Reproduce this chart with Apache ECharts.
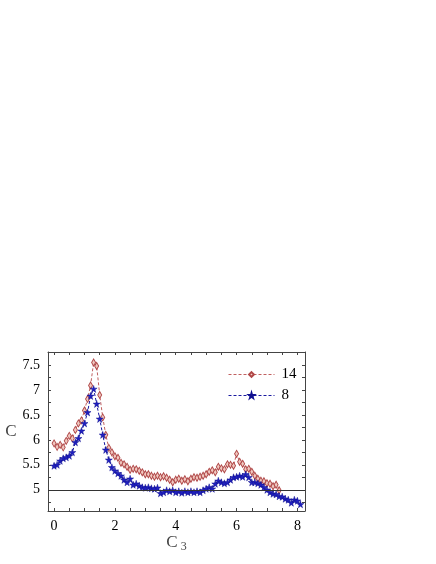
<!DOCTYPE html>
<html><head><meta charset="utf-8">
<script src="https://cdn.jsdelivr.net/npm/echarts@6/dist/echarts.min.js"></script>
<style>html,body{margin:0;padding:0;background:#fff}#c{width:436px;height:564px}</style>
</head><body><div id="c"></div>
<script>
var xRed = [0.0,0.1,0.2,0.3,0.4,0.5,0.6,0.7,0.8,0.9,1.0,1.1,1.2,1.3,1.4,1.5,1.6,1.7,1.8,1.9,2.0,2.1,2.2,2.3,2.4,2.5,2.6,2.7,2.8,2.9,3.0,3.1,3.2,3.3,3.4,3.5,3.6,3.7,3.8,3.9,4.0,4.1,4.2,4.3,4.4,4.5,4.6,4.7,4.8,4.9,5.0,5.1,5.2,5.3,5.4,5.5,5.6,5.7,5.8,5.9,6.0,6.1,6.2,6.3,6.4,6.5,6.6,6.7,6.8,6.9,7.0,7.1,7.2,7.3,7.4];
var yRed = [5.93,5.86,5.9,5.85,5.98,6.08,6.03,6.2,6.33,6.39,6.59,6.82,7.09,7.55,7.48,6.9,6.45,6.1,5.84,5.75,5.67,5.64,5.54,5.51,5.46,5.4,5.42,5.41,5.38,5.35,5.31,5.31,5.28,5.26,5.28,5.25,5.27,5.24,5.2,5.15,5.2,5.22,5.18,5.21,5.17,5.22,5.25,5.24,5.26,5.28,5.31,5.36,5.39,5.35,5.46,5.43,5.41,5.51,5.5,5.48,5.72,5.56,5.52,5.41,5.42,5.36,5.28,5.22,5.18,5.17,5.13,5.12,5.07,5.1,4.99];
var xBlue = [0.0,0.1,0.2,0.3,0.4,0.5,0.6,0.7,0.8,0.9,1.0,1.1,1.2,1.3,1.4,1.5,1.6,1.7,1.8,1.9,2.0,2.1,2.2,2.3,2.4,2.5,2.6,2.7,2.8,2.9,3.0,3.1,3.2,3.3,3.4,3.5,3.6,3.7,3.8,3.9,4.0,4.1,4.2,4.3,4.4,4.5,4.6,4.7,4.8,4.9,5.0,5.1,5.2,5.3,5.4,5.5,5.6,5.7,5.8,5.9,6.0,6.1,6.2,6.3,6.4,6.5,6.6,6.7,6.8,6.9,7.0,7.1,7.2,7.3,7.4,7.5,7.6,7.7,7.8,7.9,8.0,8.1];
var yBlue = [5.48,5.5,5.58,5.63,5.65,5.68,5.75,5.95,6.03,6.18,6.33,6.55,6.88,7.02,6.72,6.42,6.1,5.8,5.6,5.45,5.38,5.33,5.28,5.2,5.15,5.22,5.1,5.12,5.08,5.05,5.04,5.05,5.03,5.02,5.04,4.93,4.95,4.99,4.97,4.99,4.95,4.97,4.94,4.97,4.95,4.97,4.95,4.97,4.95,4.99,5.02,5.05,5.02,5.12,5.18,5.15,5.13,5.15,5.2,5.25,5.26,5.28,5.26,5.31,5.25,5.15,5.15,5.13,5.1,5.05,5.0,4.95,4.92,4.91,4.87,4.86,4.82,4.8,4.74,4.8,4.78,4.71];
var xTickLabels = [0,2,4,6,8];
var yTickLabels = [5,5.5,6,6.5,7,7.5];
var seriesNames = ['14','8'];

function pairs(xs, ys){ return xs.map(function(x,i){ return [x, ys[i]]; }); }
var star = 'path://M50,0 L61,35 L98,35 L68,57 L79,91 L50,70 L21,91 L32,57 L2,35 L39,35 Z';
var xMinor = [], yMinor = [];
for (var t = 0; t <= 8.001; t += 0.5) xMinor.push(Math.round(t*10)/10);
for (var u = 4.75; u <= 7.751; u += 0.25) yMinor.push(Math.round(u*100)/100);
var font = 'Liberation Serif';
function ax(extra){ return Object.assign({
  type:'value', axisLine:{show:true,onZero:false,lineStyle:{color:'#444',width:1}},
  splitLine:{show:false}}, extra); }

var chart = echarts.init(document.getElementById('c'));
chart.setOption({
  animation:false,
  backgroundColor:'#fff',
  grid:{left:48,right:131,top:352,bottom:53,containLabel:false},
  legend:{
    orient:'vertical', left:223, top:362, itemWidth:46, itemHeight:6, itemGap:6,
    lineStyle:{width:1},
    textStyle:{fontFamily:font,fontSize:15,color:'#000',padding:[0,0,0,2]},
    data:seriesNames
  },
  xAxis:[
    ax({min:-0.2,max:8.25,position:'bottom',
      name:'{c|C} {s|3}', nameLocation:'middle', nameGap:22,
      nameTextStyle:{rich:{c:{fontFamily:font,fontSize:17,color:'#444'},s:{fontFamily:font,fontSize:12,color:'#444',padding:[8,0,0,0]}}},
      axisTick:{show:true,inside:true,length:3,customValues:xMinor,lineStyle:{color:'#444'}},
      axisLabel:{customValues:xTickLabels,fontFamily:font,fontSize:14,color:'#000',margin:8}}),
    ax({min:-0.2,max:8.25,position:'top',
      axisTick:{show:true,inside:true,length:3,customValues:xMinor,lineStyle:{color:'#444'}},
      axisLabel:{show:false}})
  ],
  yAxis:[
    ax({min:4.575,max:7.76,position:'left',
      name:'C', nameLocation:'middle', nameGap:29, nameRotate:0,
      nameTextStyle:{fontFamily:font,fontSize:17,color:'#444'},
      axisTick:{show:true,inside:true,length:3,customValues:yMinor,lineStyle:{color:'#444'}},
      axisLabel:{customValues:yTickLabels,fontFamily:font,fontSize:14,color:'#000',margin:8,
        formatter:function(v){ return String(Math.round(v*10)/10); }}}),
    ax({min:4.575,max:7.76,position:'right',
      axisTick:{show:true,inside:true,length:3,customValues:yMinor,lineStyle:{color:'#444'}},
      axisLabel:{show:false}})
  ],
  series:[
    {name:seriesNames[0], type:'line', data:pairs(xRed,yRed),
     symbol:'diamond', symbolSize:[4,7],
     itemStyle:{color:'#f0c8c0',borderColor:'#b04848',borderWidth:1},
     lineStyle:{color:'#c06060',type:[3,2],width:1},
     markLine:{silent:true,symbol:'none',label:{show:false},
       lineStyle:{color:'#333',type:'solid',width:1},data:[{yAxis:5}]},
     z:3},
    {name:seriesNames[1], type:'line', data:pairs(xBlue,yBlue),
     symbol:star, symbolSize:7,
     itemStyle:{color:'#2020c0',borderColor:'#101090',borderWidth:0.5},
     lineStyle:{color:'#1a1aa0',type:[3,2],width:1},
     z:4}
  ]
});
</script></body></html>
